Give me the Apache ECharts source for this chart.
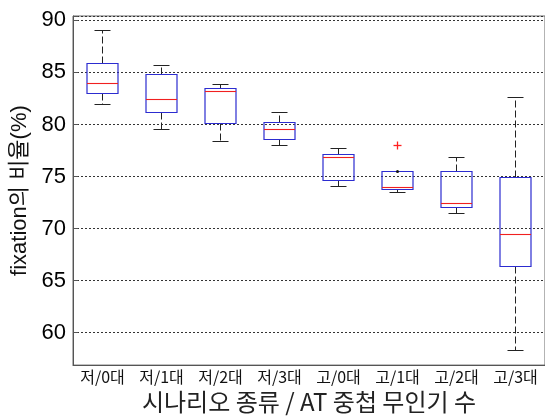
<!DOCTYPE html>
<html>
<head>
<meta charset="utf-8">
<script src="https://cdn.jsdelivr.net/npm/echarts@6/dist/echarts.min.js"></script>
<style>
html,body{margin:0;padding:0;background:#fff;}
#chart{width:545px;height:419px;}
</style>
</head>
<body>
<div id="chart"></div>
<script>
const categories = ['저/0대','저/1대','저/2대','저/3대','고/0대','고/1대','고/2대','고/3대'];
const lowerWhisker = [81.92, 79.54, 78.32, 78.01, 74.09, 73.43, 71.48, 58.30];
const quartile1    = [83.02, 81.17, 80.13, 78.60, 74.59, 73.74, 71.99, 66.38];
const medians      = [83.89, 82.42, 83.20, 79.54, 76.79, 73.97, 72.37, 69.48];
const quartile3    = [85.90, 84.83, 83.49, 80.23, 77.16, 75.50, 75.53, 74.93];
const upperWhisker = [89.06, 85.71, 83.86, 81.17, 77.69, 75.50, 76.81, 82.55];
const outlierCategory = [5];
const outlierValue    = [78.01];
const yTickStep = 5;

const boxData = categories.map((c, i) => [i, lowerWhisker[i], quartile1[i], medians[i], quartile3[i], upperWhisker[i]]);
const outlierData = outlierCategory.map((c, k) => [c, outlierValue[k]]);

const crisp = v => Math.round(v - 0.5) + 0.5;

function renderBox(params, api) {
  const i = api.value(0);
  const bw = api.size([1, 0])[0];
  const boxW = Math.round(bw * 0.52);
  const capW = Math.round(boxW / 2);
  const x = crisp(api.coord([i, api.value(1)])[0]);
  const yMin = crisp(api.coord([i, api.value(1)])[1]);
  const yQ1 = crisp(api.coord([i, api.value(2)])[1]);
  const yMed = crisp(api.coord([i, api.value(3)])[1]);
  const yQ3 = crisp(api.coord([i, api.value(4)])[1]);
  const yMax = crisp(api.coord([i, api.value(5)])[1]);
  const wStyle = {stroke: '#222', lineWidth: 1, lineDash: [7, 3]};
  const cStyle = {stroke: '#222', lineWidth: 1};
  const x0 = x - boxW / 2, x1 = x + boxW / 2;
  const children = [
    {type: 'line', shape: {x1: x, y1: yQ3, x2: x, y2: yMax}, style: wStyle},
    {type: 'line', shape: {x1: x, y1: yQ1, x2: x, y2: yMin}, style: wStyle},
    {type: 'line', shape: {x1: x - capW / 2, y1: yMax, x2: x + capW / 2, y2: yMax}, style: cStyle},
    {type: 'line', shape: {x1: x - capW / 2, y1: yMin, x2: x + capW / 2, y2: yMin}, style: cStyle},
    {type: 'rect', shape: {x: x0, y: yQ3, width: boxW, height: yQ1 - yQ3}, style: {fill: 'none', stroke: '#2c2cd0', lineWidth: 1.2}},
    {type: 'line', shape: {x1: x0, y1: yMed, x2: x1, y2: yMed}, style: {stroke: '#f02020', lineWidth: 1.1}}
  ];
  if (yMax === yQ3) {
    children.push({type: 'circle', shape: {cx: x, cy: yMax, r: 1.5}, style: {fill: '#111'}});
  }
  return {type: 'group', children: children};
}

function renderOutlier(params, api) {
  const p = api.coord([api.value(0), api.value(1)]);
  const x = crisp(p[0]), y = crisp(p[1]);
  const s = 4;
  const st = {stroke: '#ff2020', lineWidth: 1.3};
  return {
    type: 'group',
    children: [
      {type: 'line', shape: {x1: x - s, y1: y, x2: x + s, y2: y}, style: st},
      {type: 'line', shape: {x1: x, y1: y - s, x2: x, y2: y + s}, style: st}
    ]
  };
}

const chart = echarts.init(document.getElementById('chart'), null, {renderer: 'canvas'});
chart.setOption({
  animation: false,
  backgroundColor: '#fff',
  grid: {left: 73, top: 16, width: 477, height: 357, show: true, borderColor: '#666', borderWidth: 1, backgroundColor: 'transparent'},
  xAxis: {
    type: 'category',
    data: categories,
    boundaryGap: true,
    axisLine: {lineStyle: {color: '#555', width: 1}},
    axisTick: {show: false},
    splitLine: {show: false},
    axisLabel: {fontSize: 16, color: '#111', margin: 4, fontFamily: 'Noto Sans CJK KR', interval: 0},
    name: '시나리오 종류 / AT 중첩 무인기 수',
    nameLocation: 'middle',
    nameGap: 19,
    nameTextStyle: {fontSize: 24, color: '#222', fontFamily: 'Noto Sans CJK KR'}
  },
  yAxis: {
    type: 'value',
    min: 56.89,
    max: 90.42,
    splitNumber: 6,
    axisLine: {show: true, lineStyle: {color: '#555', width: 1}},
    axisTick: {show: true, inside: true, length: 5, lineStyle: {color: '#555'}},
    splitLine: {show: true, lineStyle: {color: '#333', type: [2, 2], width: 1}},
    axisLabel: {
      fontSize: 22, color: '#000', margin: 7, fontFamily: 'Liberation Sans, Arial, sans-serif',
      formatter: v => (Math.abs(v / yTickStep - Math.round(v / yTickStep)) < 1e-6 ? String(Math.round(v)) : '')
    },
    name: 'fixation의 비율(%)',
    nameLocation: 'middle',
    nameGap: 41,
    nameTextStyle: {fontSize: 22, color: '#111', fontFamily: 'Liberation Sans, Noto Sans CJK KR'}
  },
  series: [
    {type: 'custom', renderItem: renderBox, data: boxData, encode: {x: 0, y: [1, 2, 3, 4, 5]}, clip: false, silent: true},
    {type: 'custom', renderItem: renderOutlier, data: outlierData, encode: {x: 0, y: 1}, silent: true}
  ]
});
</script>
</body>
</html>
